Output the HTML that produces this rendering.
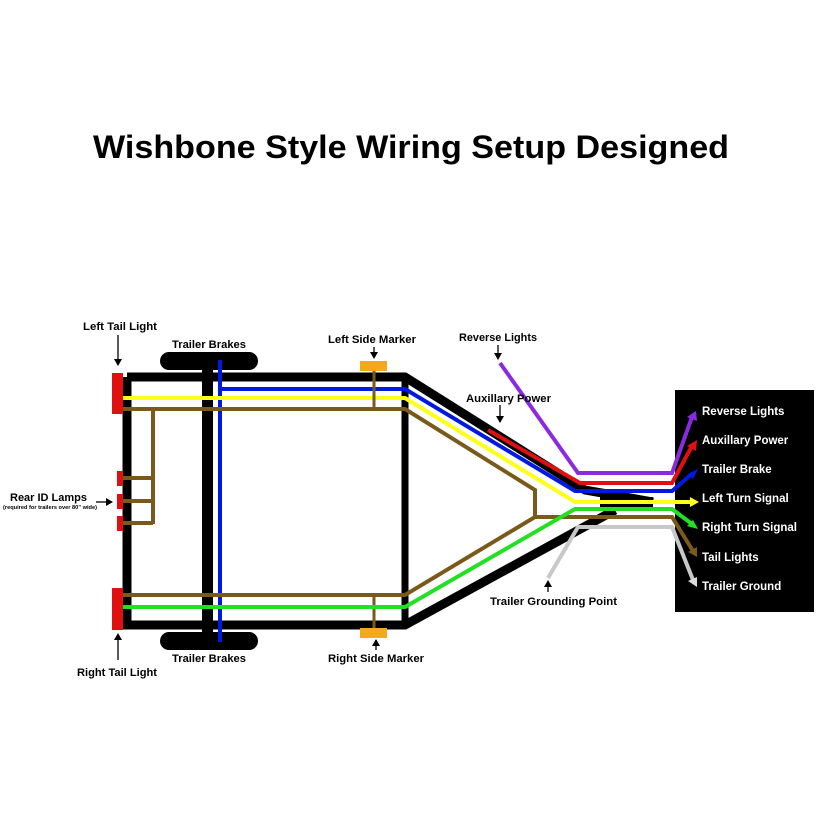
<!DOCTYPE html>
<html><head><meta charset="utf-8"><style>
html,body{margin:0;padding:0;background:#fff;}
svg{display:block;}
text{font-family:"Liberation Sans",sans-serif;font-weight:bold;}
</style></head><body>
<svg width="817" height="817" viewBox="0 0 817 817" xmlns="http://www.w3.org/2000/svg">
<defs>
<marker id="ak" markerWidth="8" markerHeight="8" refX="6" refY="4" orient="auto" markerUnits="userSpaceOnUse"><path d="M0,0 L7,4 L0,8 z" fill="#000"/></marker>
</defs>
<rect width="817" height="817" fill="#fff"/>
<text x="411" y="158" font-size="32" text-anchor="middle" textLength="636" lengthAdjust="spacingAndGlyphs">Wishbone Style Wiring Setup Designed</text>

<!-- black box -->
<rect x="675" y="390" width="139" height="222" fill="#000"/>
<g fill="#fff" font-size="11.5">
<text x="702" y="415">Reverse Lights</text>
<text x="702" y="444">Auxillary Power</text>
<text x="702" y="473">Trailer Brake</text>
<text x="702" y="502">Left Turn Signal</text>
<text x="702" y="531">Right Turn Signal</text>
<text x="702" y="561">Tail Lights</text>
<text x="702" y="590">Trailer Ground</text>
</g>

<!-- tires -->
<rect x="160" y="352" width="98" height="18" rx="9" fill="#000"/>
<rect x="160" y="632" width="98" height="18" rx="9" fill="#000"/>
<!-- frame -->
<path d="M127,377 H405 L585,490 L653,502" fill="none" stroke="#000" stroke-width="9"/>
<path d="M127,377 V625 H405 L615,510" fill="none" stroke="#000" stroke-width="9"/>
<line x1="405" y1="377" x2="405" y2="625" stroke="#000" stroke-width="7"/>
<line x1="600" y1="502" x2="653" y2="502" stroke="#000" stroke-width="10"/>
<!-- axle -->
<rect x="202" y="360" width="11" height="282" fill="#000"/>
<!-- blue -->
<path d="M220,360 V642" stroke="#0019e0" stroke-width="4" fill="none"/>
<path d="M220,389 H405 L575,491 H672 L693,473" stroke="#0019e0" stroke-width="4" fill="none"/>
<path d="M688,474 L698,469 L693,479 z" fill="#0019e0"/>
<!-- red -->
<path d="M488,430 L580,483 H672 L692,446" stroke="#e01010" stroke-width="4" fill="none"/>
<path d="M687,446 L697,440 L696,451 z" fill="#e01010"/>
<!-- purple -->
<path d="M500,363 L578,473 H672 L692,417" stroke="#8a2be2" stroke-width="4" fill="none"/>
<path d="M687,417 L696,411 L697,421 z" fill="#8a2be2"/>
<!-- yellow -->
<path d="M120,398 H405 L575,502 H693" stroke="#ffff1a" stroke-width="4" fill="none"/>
<path d="M690,497 L699,502 L690,507 z" fill="#ffff1a"/>
<!-- brown -->
<path d="M122,409 H405 L535,490 V517 H672 L693,551" stroke="#7a5a1a" stroke-width="4" fill="none"/>
<path d="M688,552 L697,557 L697,547 z" fill="#7a5a1a"/>
<path d="M122,595 H405 L535,517" stroke="#7a5a1a" stroke-width="4" fill="none"/>
<path d="M153,409 V524 M120,478 H153 M120,501 H153 M120,523 H153" stroke="#7a5a1a" stroke-width="4" fill="none"/>
<path d="M374,367 V409 M374,595 V635" stroke="#7a5a1a" stroke-width="3" fill="none"/>
<!-- green -->
<path d="M120,607 H405 L575,509 H672 L692,524" stroke="#22e022" stroke-width="4" fill="none"/>
<path d="M687,526 L698,529 L693,520 z" fill="#22e022"/>
<!-- gray -->
<path d="M548,578 L578,527 H672 L693,580" stroke="#c8c8c8" stroke-width="4" fill="none"/>
<path d="M688,581 L697,587 L697,577 z" fill="#ddd"/>
<!-- markers -->
<rect x="360" y="361" width="27" height="10" fill="#f4a81c"/>
<rect x="360" y="628" width="27" height="10" fill="#f4a81c"/>
<!-- lamps -->
<rect x="112" y="373" width="11" height="41" fill="#e01010"/>
<rect x="112" y="588" width="11" height="42" fill="#e01010"/>
<rect x="117" y="471" width="6" height="15" fill="#e01010"/>
<rect x="117" y="494" width="6" height="15" fill="#e01010"/>
<rect x="117" y="516" width="6" height="15" fill="#e01010"/>

<!-- labels -->
<g font-size="11" fill="#000">
<text x="83" y="330" textLength="74" lengthAdjust="spacingAndGlyphs">Left Tail Light</text>
<text x="172" y="348" textLength="74" lengthAdjust="spacingAndGlyphs">Trailer Brakes</text>
<text x="328" y="343" textLength="88" lengthAdjust="spacingAndGlyphs">Left Side Marker</text>
<text x="459" y="341" textLength="78" lengthAdjust="spacingAndGlyphs">Reverse Lights</text>
<text x="466" y="402" textLength="85" lengthAdjust="spacingAndGlyphs">Auxillary Power</text>
<text x="10" y="501" textLength="77" lengthAdjust="spacingAndGlyphs">Rear ID Lamps</text>
<text x="172" y="662" textLength="74" lengthAdjust="spacingAndGlyphs">Trailer Brakes</text>
<text x="328" y="662" textLength="96" lengthAdjust="spacingAndGlyphs">Right Side Marker</text>
<text x="77" y="676" textLength="80" lengthAdjust="spacingAndGlyphs">Right Tail Light</text>
<text x="490" y="605" textLength="127" lengthAdjust="spacingAndGlyphs">Trailer Grounding Point</text>
</g>
<text x="3" y="509" font-size="5" font-weight="normal" textLength="94" lengthAdjust="spacingAndGlyphs">(required for trailers over 80" wide)</text>
<g stroke="#000" stroke-width="1.3" marker-end="url(#ak)">
<line x1="118" y1="335" x2="118" y2="365"/>
<line x1="374" y1="347" x2="374" y2="358"/>
<line x1="498" y1="345" x2="498" y2="359"/>
<line x1="500" y1="405" x2="500" y2="422"/>
<line x1="96" y1="502" x2="112" y2="502"/>
<line x1="118" y1="660" x2="118" y2="634"/>
<line x1="376" y1="650" x2="376" y2="640"/>
<line x1="548" y1="592" x2="548" y2="581"/>
</g>
</svg>
</body></html>
